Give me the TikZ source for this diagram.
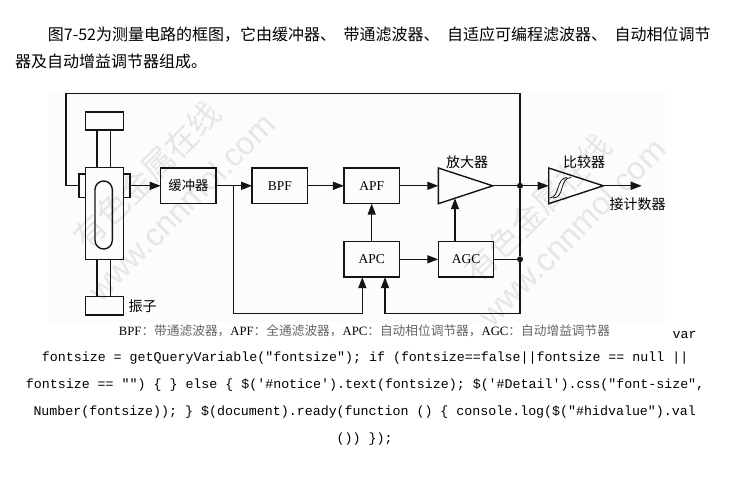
\documentclass[tikz,border=0pt]{standalone}
\usepackage{fontspec}
\usepackage{xcolor}
\usetikzlibrary{arrows.meta,calc}
\setmainfont{Liberation Serif}
\newfontfamily\cjk{Noto Sans CJK SC}
\newfontfamily\lib{Liberation Sans}
\newfontfamily\codefont{Liberation Mono}
\definecolor{mark1}{HTML}{E6E6E6}
\definecolor{back1}{HTML}{FCFCFC}
\definecolor{ink1}{HTML}{141414}
\newcommand{\capgap}{\hspace{7.5pt}}
\tikzset{
  wire/.style={line width=1.4pt,color=ink1},
  wirearrow/.style={wire,-{Triangle[length=11pt,width=8pt]}},
  blockbox/.style={draw=ink1,line width=1.4pt,minimum width=55.5pt,minimum height=35.7pt,inner sep=0pt,outer sep=0pt,font=\fontsize{13.5}{14}\selectfont},
  junction/.style={circle,fill=ink1,minimum size=6pt,inner sep=0pt,outer sep=0pt},
  watermark/.style={color=mark1,rotate=45,inner sep=0pt},
  bodytext/.style={inner sep=0pt,anchor=base west,font=\fontsize{16}{16}\cjk\selectfont,color=black},
  codeline/.style={inner sep=0pt,anchor=base west,font=\fontsize{13.3}{14}\codefont\selectfont,color=black},
  tagtext/.style={inner sep=0pt,font=\fontsize{14}{14}\cjk\selectfont}
}

\begin{document}
\begin{tikzpicture}[x=1pt,y=-1pt]

\useasboundingbox (0,0) rectangle (730,486);
\fill[white] (0,0) rectangle (730,486);
\fill[back1] (48,90) rectangle (665,322);

\node[watermark,font=\fontsize{32}{32}\cjk\selectfont] (markcn1) at (147,175) {有色金属在线};
\node[watermark,font=\fontsize{32}{32}\lib\selectfont] (markurl1) at (181,207) {www.cnnmol.com};
\node[watermark,font=\fontsize{32}{32}\cjk\selectfont] (markcn2) at (538,208) {有色金属在线};
\node[watermark,font=\fontsize{32}{32}\lib\selectfont] (markurl2) at (572,232) {www.cnnmol.com};

\node[bodytext] (line1) at (47.7,41) {图7-52为测量电路的框图，它由缓冲器、\capgap 带通滤波器、\capgap 自适应可编程滤波器、\capgap 自动相位调节};
\node[bodytext] (line2) at (15,68) {器及自动增益调节器组成。};

% oscillator
\draw[wire] (85.7,112) rectangle (123.5,130);
\draw[wire] (85.7,296.3) rectangle (123.5,315);
\draw[wire] (97,130) -- (97,167.3) (110.7,130) -- (110.7,167.3);
\draw[wire] (97,259.7) -- (97,296.3) (110.7,259.7) -- (110.7,296.3);
\draw[wire] (85.7,167.3) rectangle (123.5,259.7);
\draw[wire] (79,174) rectangle (85.7,197.7);
\draw[wire] (123.5,174) rectangle (130,197.7);
\draw[wire,rounded corners=8.6pt] (95,181) rectangle (112.3,249);
\coordinate (tabl) at (79,185.8);
\coordinate (tabr) at (130,185.8);
\node[tagtext] (oscname) at (142.5,306.5) {振子};

\node[blockbox,font=\fontsize{13.3}{14}\cjk\selectfont] (buffer) at (188.4,185.8) {缓冲器};
\node[blockbox] (bpf) at (279.8,185.8) {BPF};
\node[blockbox] (apf) at (371.7,185.8) {APF};
\node[blockbox] (apc) at (371.7,259.3) {APC};
\node[blockbox] (agc) at (466,259.3) {AGC};

% amplifier and comparator
\draw[wire] (438.3,168) -- (438.3,203.7) -- (492.7,185.8) -- cycle;
\draw[wire] (548.7,168) -- (548.7,203.7) -- (603.3,185.8) -- cycle;
\draw[line width=0.8pt,color=ink1] (550,198) .. controls (560,197) and (556,178) .. (567,177.5);
\draw[line width=0.8pt,color=ink1] (553,198) .. controls (565,198) and (559,178) .. (571,177.5);
\coordinate (ampin) at (438.3,185.8);
\coordinate (ampout) at (492.7,185.8);
\coordinate (ampgain) at (455,198.2);
\coordinate (cmpin) at (548.7,185.8);
\coordinate (cmpout) at (603.3,185.8);
\coordinate (cmpend) at (641.7,185.8);
\node[tagtext] (ampname) at (467,162) {放大器};
\node[tagtext] (cmpname) at (584,162) {比较器};
\node[tagtext] (cmpnext) at (637.5,204) {接计数器};

\node[junction] (joinout) at (520,185.8) {};
\node[junction] (joinagc) at (520,259.3) {};
\coordinate (corner1) at (66,93.3);
\coordinate (corner2) at (520,93.3);
\coordinate (corner3) at (520,313.7);
\coordinate (split) at (233.3,185.8);
\coordinate (corner4) at (233.3,313.7);
\coordinate (apcleft) at (362.3,277.15);
\coordinate (apcright) at (385,277.15);

\draw[wire] (tabl) -| (corner1) -- (corner2) -- (joinout);
\draw[wire] (joinout) -- (joinagc) -- (corner3);
\draw[wirearrow] (tabr) -- (buffer);
\draw[wirearrow] (buffer) -- (bpf);
\draw[wirearrow] (bpf) -- (apf);
\draw[wirearrow] (apf) -- (ampin);
\draw[wire] (ampout) -- (joinout);
\draw[wirearrow] (joinout) -- (cmpin);
\draw[wirearrow] (cmpout) -- (cmpend);
\draw[wirearrow] (apc) -- (apf);
\draw[wirearrow] (apc) -- (agc);
\draw[wirearrow] (agc.north -| ampgain) -- (ampgain);
\draw[wire] (agc) -- (joinagc);
\draw[wirearrow] (split) -- (corner4) -| (apcleft);
\draw[wirearrow] (corner3) -| (apcright);

\node[inner sep=0pt,anchor=base,font=\fontsize{12.7}{13}\cjk\selectfont,color=black!60] (caption) at (364.5,335) {{\rmfamily\color{black}BPF}：带通滤波器，{\rmfamily\color{black}APF}：全通滤波器，{\rmfamily\color{black}APC}：自动相位调节器，{\rmfamily\color{black}AGC}：自动增益调节器};

\node[codeline] (code0) at (672.5,338.5) {var};
\node[codeline] (code1) at (41.7,361.5) {fontsize = getQueryVariable("fontsize"); if (fontsize==false||fontsize == null ||};
\node[codeline] (code2) at (25.7,388) {fontsize == "") \{ \} else \{ \$('\#notice').text(fontsize); \$('\#Detail').css("font-size",};
\node[codeline] (code3) at (33.3,415) {Number(fontsize)); \} \$(document).ready(function () \{ console.log(\$("\#hidvalue").val};
\node[codeline] (code4) at (336.5,442) {()) \});};

\end{tikzpicture}
\end{document}
